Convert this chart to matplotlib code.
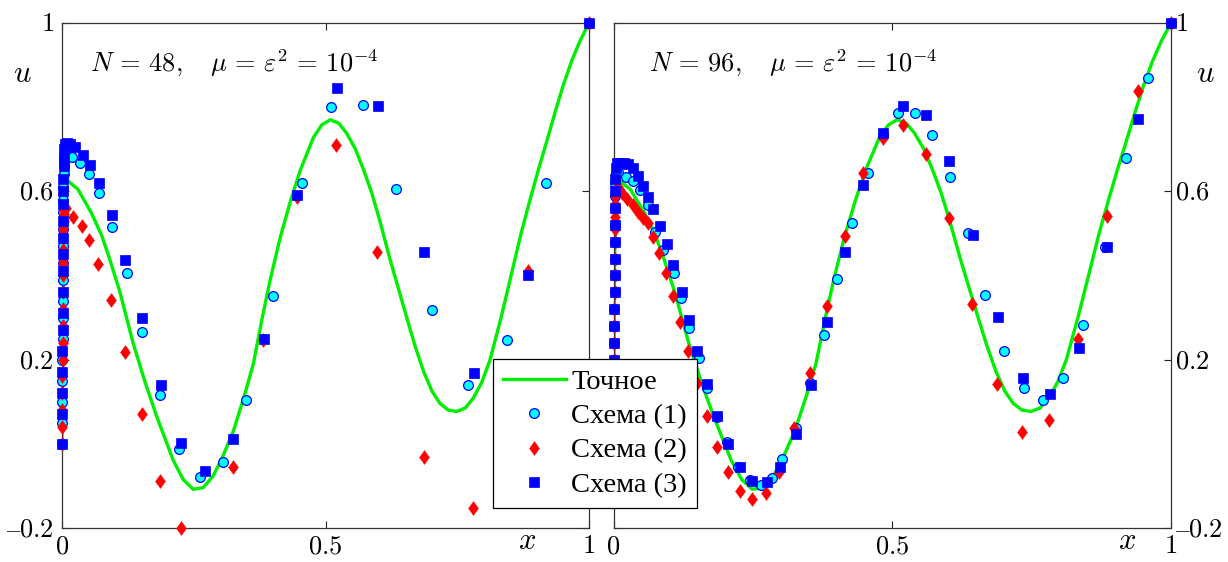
import matplotlib
matplotlib.use('Agg')
import matplotlib.pyplot as plt
from matplotlib.path import Path

plt.rcParams['mathtext.fontset'] = 'cm'
plt.rcParams['font.family'] = ['Liberation Serif', 'DejaVu Serif']

# exact solution
x_exact = [0.0, 0.002, 0.005, 0.009, 0.03, 0.056, 0.075, 0.091, 0.11, 0.135, 0.158, 0.18,
           0.211, 0.23, 0.249, 0.268, 0.287, 0.305, 0.325, 0.345, 0.363, 0.38, 0.395, 0.414,
           0.433, 0.452, 0.477, 0.493, 0.509, 0.525, 0.540, 0.556, 0.572, 0.588, 0.603, 0.622,
           0.638, 0.654, 0.670, 0.686, 0.702, 0.717, 0.733, 0.749, 0.765, 0.780, 0.796, 0.812,
           0.833, 0.854, 0.871, 0.888, 0.904, 0.920, 0.936, 0.951, 0.967, 0.983, 1.0]
u_exact = [0.0, 0.45, 0.61, 0.627, 0.605, 0.548, 0.496, 0.437, 0.36, 0.239, 0.145, 0.064,
           -0.039, -0.085, -0.108, -0.104, -0.076, -0.03, 0.03, 0.11, 0.19, 0.30, 0.39, 0.49,
           0.575, 0.65, 0.728, 0.758, 0.770, 0.762, 0.738, 0.702, 0.652, 0.595, 0.53, 0.44,
           0.37, 0.30, 0.232, 0.172, 0.125, 0.096, 0.080, 0.077, 0.085, 0.108, 0.145, 0.199,
           0.30, 0.41, 0.50, 0.58, 0.652, 0.72, 0.79, 0.852, 0.91, 0.958, 1.0]

# mesh nodes inside the boundary layer at x = 0
x_layer = [0.0, 0.0002, 0.0004, 0.0006, 0.0008, 0.001, 0.0012, 0.0014, 0.0016,
           0.0018, 0.002, 0.0022, 0.0024, 0.0026, 0.0028, 0.003, 0.0035, 0.004]

# N = 48
u48_layer_1 = [0.0, 0.05, 0.10, 0.15, 0.20, 0.25, 0.30, 0.34, 0.39, 0.43, 0.47, 0.51, 0.55, 0.58, 0.61, 0.64, 0.66, 0.68]
x48_1 = [0.008, 0.018, 0.034, 0.051, 0.070, 0.094, 0.123, 0.151, 0.185, 0.222, 0.262, 0.305,
         0.349, 0.400, 0.455, 0.510, 0.571, 0.634, 0.702, 0.771, 0.844, 0.918, 1.0]
u48_1 = [0.69, 0.682, 0.667, 0.642, 0.595, 0.515, 0.405, 0.266, 0.116, -0.012, -0.078, -0.044,
         0.104, 0.352, 0.619, 0.801, 0.805, 0.606, 0.318, 0.140, 0.247, 0.619, 1.0]

u48_layer_2 = [0.0, 0.04, 0.08, 0.12, 0.16, 0.20, 0.24, 0.28, 0.32, 0.36, 0.40, 0.43, 0.46, 0.49, 0.51, 0.53, 0.545, 0.555]
x48_2 = [0.008, 0.021, 0.037, 0.052, 0.069, 0.092, 0.120, 0.151, 0.186, 0.226, 0.324, 0.382,
         0.445, 0.520, 0.598, 0.686, 0.780, 0.885, 1.0]
u48_2 = [0.560, 0.540, 0.518, 0.484, 0.428, 0.341, 0.219, 0.070, -0.088, -0.2, -0.054, 0.247,
         0.587, 0.710, 0.457, -0.032, -0.153, 0.411, 1.0]

u48_layer_3 = [0.0, 0.07, 0.12, 0.17, 0.22, 0.27, 0.31, 0.36, 0.41, 0.45, 0.49, 0.53, 0.57, 0.60, 0.63, 0.66, 0.68, 0.70]
x48_3 = [0.006, 0.009, 0.015, 0.025, 0.039, 0.054, 0.071, 0.094, 0.120, 0.151, 0.187, 0.226,
         0.271, 0.324, 0.383, 0.446, 0.521, 0.599, 0.687, 0.782, 0.885, 1.0]
u48_3 = [0.712, 0.715, 0.712, 0.705, 0.686, 0.662, 0.619, 0.544, 0.437, 0.298, 0.140, 0.001,
         -0.065, 0.011, 0.249, 0.591, 0.846, 0.803, 0.457, 0.169, 0.402, 1.0]

# N = 96
u96_layer_1 = [0.0, 0.04, 0.08, 0.12, 0.16, 0.20, 0.24, 0.28, 0.32, 0.36, 0.40, 0.44, 0.48, 0.52, 0.56, 0.59, 0.62, 0.64]
x96_1 = [0.008, 0.022, 0.035, 0.048, 0.062, 0.074, 0.089, 0.109, 0.121, 0.136, 0.154, 0.168,
         0.186, 0.204, 0.224, 0.245, 0.264, 0.284, 0.303, 0.327, 0.352, 0.378, 0.401, 0.428,
         0.457, 0.483, 0.511, 0.541, 0.572, 0.604, 0.636, 0.666, 0.700, 0.737, 0.770, 0.807,
         0.843, 0.882, 0.919, 0.959, 1.0]
u96_1 = [0.645, 0.634, 0.625, 0.603, 0.568, 0.504, 0.461, 0.405, 0.346, 0.276, 0.205, 0.132,
         0.064, 0.004, -0.054, -0.086, -0.098, -0.082, -0.037, 0.037, 0.144, 0.259, 0.391, 0.524,
         0.644, 0.734, 0.785, 0.785, 0.734, 0.633, 0.500, 0.354, 0.221, 0.132, 0.104, 0.156,
         0.282, 0.467, 0.678, 0.870, 1.0]

u96_layer_2 = [0.0, 0.04, 0.08, 0.12, 0.16, 0.20, 0.24, 0.28, 0.32, 0.36, 0.40, 0.44, 0.48, 0.51, 0.54, 0.57, 0.59, 0.605]
x96_2 = [0.008, 0.015, 0.024, 0.035, 0.044, 0.053, 0.062, 0.071, 0.082, 0.094, 0.106, 0.119,
         0.133, 0.150, 0.167, 0.185, 0.206, 0.227, 0.249, 0.273, 0.297, 0.324, 0.352, 0.383,
         0.415, 0.447, 0.484, 0.520, 0.561, 0.601, 0.643, 0.687, 0.733, 0.782, 0.834, 0.886,
         0.940, 1.0]
u96_2 = [0.610, 0.596, 0.582, 0.568, 0.551, 0.537, 0.524, 0.492, 0.453, 0.405, 0.351, 0.289,
         0.221, 0.145, 0.067, -0.008, -0.066, -0.111, -0.132, -0.118, -0.066, 0.037, 0.169, 0.328,
         0.495, 0.643, 0.727, 0.758, 0.688, 0.536, 0.332, 0.141, 0.029, 0.057, 0.248, 0.542,
         0.839, 1.0]

u96_layer_3 = [0.0, 0.04, 0.08, 0.12, 0.16, 0.20, 0.24, 0.28, 0.32, 0.36, 0.40, 0.44, 0.48, 0.52, 0.56, 0.60, 0.63, 0.655]
x96_3 = [0.006, 0.012, 0.019, 0.026, 0.035, 0.044, 0.053, 0.062, 0.071, 0.083, 0.096, 0.107,
         0.122, 0.135, 0.150, 0.168, 0.186, 0.206, 0.227, 0.249, 0.275, 0.299, 0.327, 0.354,
         0.383, 0.415, 0.448, 0.484, 0.520, 0.561, 0.602, 0.644, 0.689, 0.734, 0.783, 0.835,
         0.886, 0.941, 1.0]
u96_3 = [0.667, 0.667, 0.667, 0.665, 0.656, 0.636, 0.613, 0.587, 0.558, 0.518, 0.475, 0.425,
         0.361, 0.294, 0.221, 0.142, 0.066, 0.000, -0.054, -0.088, -0.090, -0.056, 0.023, 0.140,
         0.290, 0.455, 0.615, 0.738, 0.803, 0.781, 0.672, 0.496, 0.302, 0.156, 0.118, 0.227,
         0.468, 0.771, 1.0]

labels = ['Точное', 'Схема (1)', 'Схема (2)', 'Схема (3)']
x_ticks = [0, 0.5, 1]
x_ticklabels = ['$0$', '$0.5$', '$1$']
y_ticks = [-0.2, 0.2, 0.6, 1]
y_ticklabels = [r'$\text{–}0.2$', '$0.2$', '$0.6$', '$1$']

# diamond a little wider than matplotlib's 'd'
diamond = Path([(0, 1), (0.72, 0), (0, -1), (-0.72, 0), (0, 1)],
               [Path.MOVETO, Path.LINETO, Path.LINETO, Path.LINETO, Path.CLOSEPOLY])

fig = plt.figure(figsize=(12.28, 5.62), dpi=100)
ax1 = fig.add_axes([0.0505, 0.0605, 0.4292, 0.8986])
ax2 = fig.add_axes([0.4996, 0.0605, 0.4540, 0.8986])


def draw_panel(ax, s1, s2, s3, title, tx):
    h0, = ax.plot(x_exact, u_exact, color='#00ee00', lw=2.4, zorder=2)
    h1, = ax.plot(x_layer + s1[0], s1[1], 'o', ls='none', ms=7, mfc='#00ffff', mec='#0000ff',
                  mew=0.9, clip_on=False, zorder=3)
    h2, = ax.plot(x_layer + s2[0], s2[1], marker=diamond, ls='none', ms=10, mfc='#ff0000',
                  mec='#ff0000', mew=0.3, clip_on=False, zorder=4)
    h3, = ax.plot(x_layer + s3[0], s3[1], 's', ls='none', ms=7.4, mfc='#0000ff', mec='#0000ff',
                  mew=0.5, clip_on=False, zorder=5)
    ax.set_xlim(0, 1)
    ax.set_ylim(-0.2, 1)
    ax.set_xticks(x_ticks)
    ax.set_xticklabels(x_ticklabels)
    ax.set_yticks(y_ticks)
    ax.set_yticklabels(y_ticklabels)
    ax.tick_params(direction='in', length=5, width=0.8, labelsize=19, top=True, right=True,
                   pad=6, colors='#222222', labelcolor='black')
    for sp in ax.spines.values():
        sp.set_linewidth(0.9)
        sp.set_color('#333333')
    ax.text(tx, 0.92, title, transform=ax.transAxes, fontsize=19, va='center', ha='left')
    return [h0, h1, h2, h3]


handles = draw_panel(ax1, (x48_1, u48_layer_1 + u48_1), (x48_2, u48_layer_2 + u48_2),
                     (x48_3, u48_layer_3 + u48_3),
                     r'$N\,=\,48,\quad \mu\,=\,\varepsilon^2\,=\,10^{-4}$', 0.053)
draw_panel(ax2, (x96_1, u96_layer_1 + u96_1), (x96_2, u96_layer_2 + u96_2),
           (x96_3, u96_layer_3 + u96_3),
           r'$N\,=\,96,\quad \mu\,=\,\varepsilon^2\,=\,10^{-4}$', 0.064)

ax2.yaxis.tick_right()
ax2.tick_params(axis='y', left=True, right=True, labelleft=False, labelright=True, pad=3)

# axis labels
fig.text(22 / 1228, 1 - 75 / 562, '$u$', fontsize=22, ha='center', va='center')
fig.text(1205 / 1228, 1 - 75 / 562, '$u$', fontsize=22, ha='center', va='center')
fig.text(527 / 1228, 1 - 556 / 562, '$x$', fontsize=22, ha='center', va='bottom')
fig.text(1127 / 1228, 1 - 556 / 562, '$x$', fontsize=22, ha='center', va='bottom')

leg = fig.legend(handles, labels, loc='lower left', bbox_to_anchor=(493 / 1228, 1 - 508 / 562),
                 borderaxespad=0, fontsize=20.5, frameon=True, fancybox=False, framealpha=1,
                 edgecolor='black', handlelength=2.2, handletextpad=0.2, labelspacing=0.3,
                 borderpad=0.35, numpoints=1)
leg.get_frame().set_linewidth(0.9)

fig.savefig('out.png', dpi=100, facecolor='white')
